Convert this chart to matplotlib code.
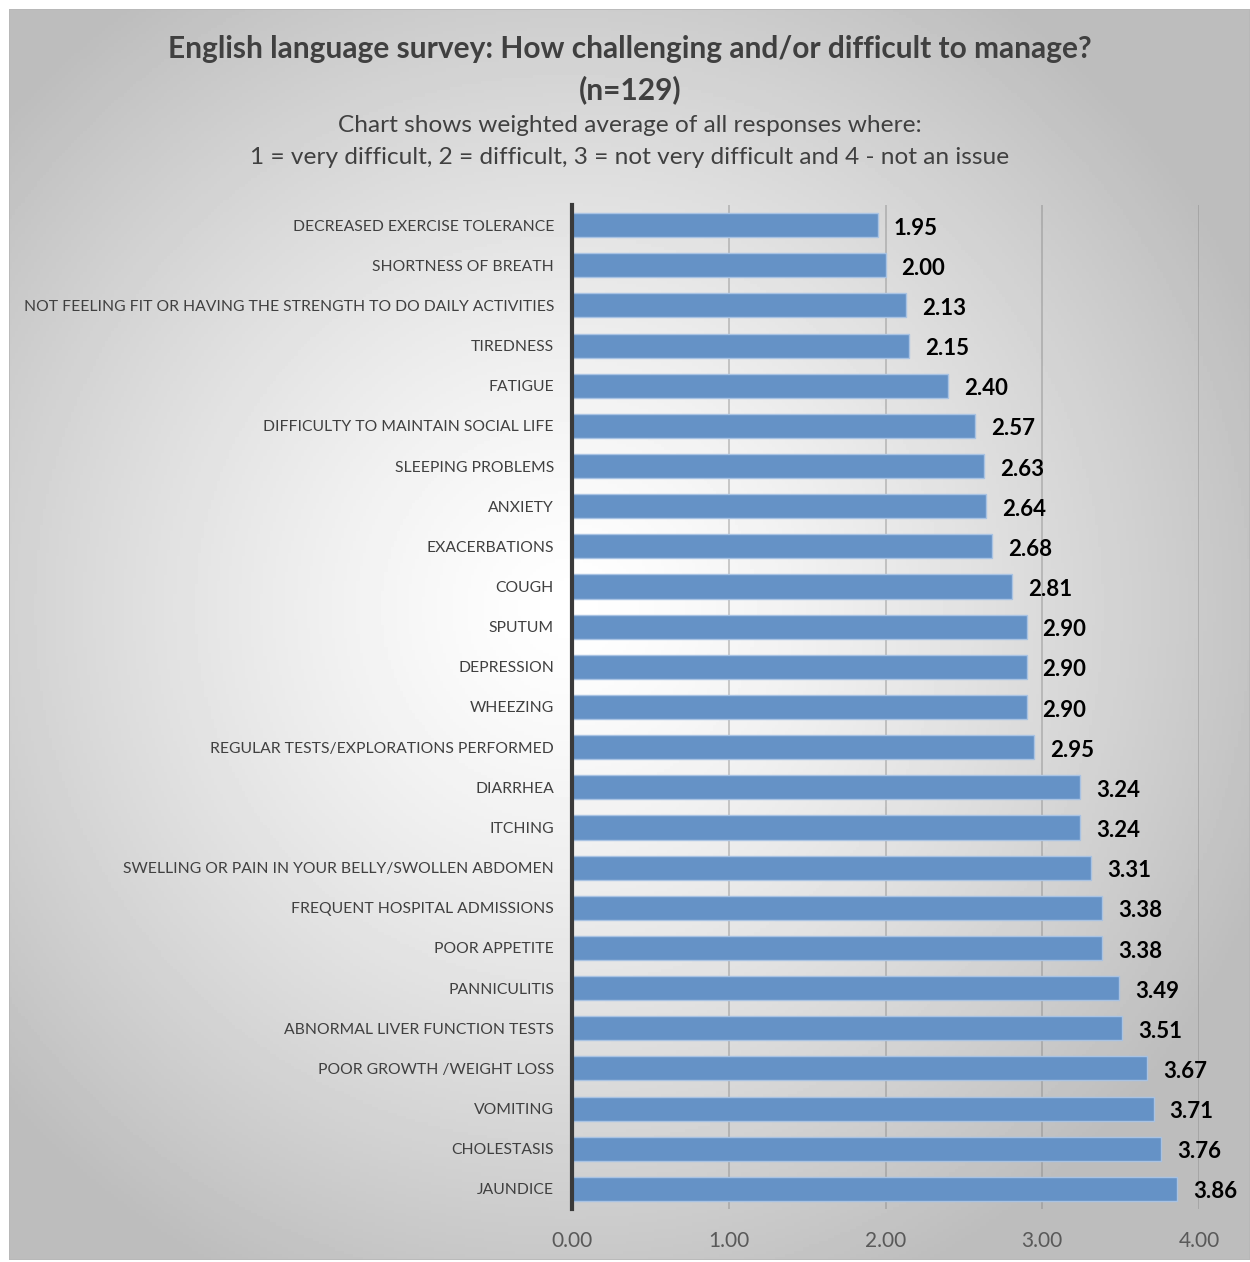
import numpy as np
import matplotlib.pyplot as plt

categories = [
    "DECREASED EXERCISE TOLERANCE", "SHORTNESS OF BREATH",
    "NOT FEELING FIT OR HAVING THE STRENGTH TO DO DAILY ACTIVITIES",
    "TIREDNESS", "FATIGUE", "DIFFICULTY TO MAINTAIN SOCIAL LIFE",
    "SLEEPING PROBLEMS", "ANXIETY", "EXACERBATIONS", "COUGH", "SPUTUM",
    "DEPRESSION", "WHEEZING", "REGULAR TESTS/EXPLORATIONS PERFORMED",
    "DIARRHEA", "ITCHING", "SWELLING OR PAIN IN YOUR BELLY/SWOLLEN ABDOMEN",
    "FREQUENT HOSPITAL ADMISSIONS", "POOR APPETITE", "PANNICULITIS",
    "ABNORMAL LIVER FUNCTION TESTS", "POOR GROWTH /WEIGHT LOSS", "VOMITING",
    "CHOLESTASIS", "JAUNDICE",
]
scores = [1.95, 2.00, 2.13, 2.15, 2.40, 2.57, 2.63, 2.64, 2.68, 2.81, 2.90,
          2.90, 2.90, 2.95, 3.24, 3.24, 3.31, 3.38, 3.38, 3.49, 3.51, 3.67,
          3.71, 3.76, 3.86]
x_ticks = [0, 1, 2, 3, 4]

W, H = 1250, 1262
fig = plt.figure(figsize=(W / 100, H / 100), dpi=100, facecolor="white")
plt.rcParams["font.family"] = ["Lato", "DejaVu Sans"]

# panel with a radial grey gradient
bg = fig.add_axes([9 / W, 2 / H, 1241 / W, 1251 / H])
gx, gy = np.meshgrid(np.linspace(0, 1241, 400), np.linspace(0, 1251, 400))
r = np.hypot((gx - 560) / 900, (gy - 600) / 900)
shade = np.clip(1.0 - 0.33 * r ** 1.3, 0.74, 1.0)
bg.imshow(shade, cmap="gray", vmin=0, vmax=1, aspect="auto",
          extent=[0, 1, 0, 1], origin="upper")
bg.set_axis_off()
bg.add_patch(plt.Rectangle((0, 0), 1, 1, transform=bg.transAxes, fill=False,
                           edgecolor="#b8b8b8", lw=1.2))

# plot area: x 572..1199 px, y 205..1209 px
left, right = 572, 1199
top, bottom = 205, 1209
ax = fig.add_axes([left / W, 1 - bottom / H, (right - left) / W, (bottom - top) / H])
ax.patch.set_alpha(0)

ypos = np.arange(len(categories))
ax.barh(ypos, scores, height=0.6, color="#6592c6", edgecolor="#a9c3e3",
        linewidth=1.0, zorder=3)
for y, v in zip(ypos, scores):
    ax.annotate(f"{v:.2f}", (v, y), xytext=(11.5, -2.2), textcoords="offset points",
                ha="left", va="center", fontsize=16, fontweight="bold",
                color="black", zorder=4)

ax.set_ylim(len(categories) - 0.5, -0.5)
ax.set_xlim(0, 4)
ax.set_xticks(x_ticks)
ax.set_xticklabels([f"{t:.2f}" for t in x_ticks], fontsize=15, color="#595959")
ax.set_yticks(ypos)
ax.set_yticklabels(categories, fontsize=11.35, color="#404040")
ax.tick_params(axis="both", length=0)
ax.tick_params(axis="x", pad=16)
ax.tick_params(axis="y", pad=13)
ax.xaxis.grid(True, color="#808080", alpha=0.45, lw=1.2, zorder=1)
ax.set_axisbelow(True)
for s in ["top", "right", "bottom"]:
    ax.spines[s].set_visible(False)
ax.spines["left"].set_color("#3a3a3a")
ax.spines["left"].set_linewidth(3)
ax.spines["left"].set_zorder(5)

fig.text(630 / W, 1 - 49 / H, "English language survey: How challenging and/or difficult to manage?",
         ha="center", va="center", fontsize=21.5, fontweight="bold", color="#404040")
fig.text(630 / W, 1 - 90 / H, "(n=129)",
         ha="center", va="center", fontsize=21.5, fontweight="bold", color="#404040")
fig.text(630 / W, 1 - 125 / H, "Chart shows weighted average of all responses where:",
         ha="center", va="center", fontsize=17.6, color="#404040")
fig.text(630 / W, 1 - 157 / H,
         "1 = very difficult, 2 = difficult, 3 = not very difficult and 4 - not an issue",
         ha="center", va="center", fontsize=17.6, color="#404040")

fig.savefig("out.png", dpi=100, facecolor="white")
